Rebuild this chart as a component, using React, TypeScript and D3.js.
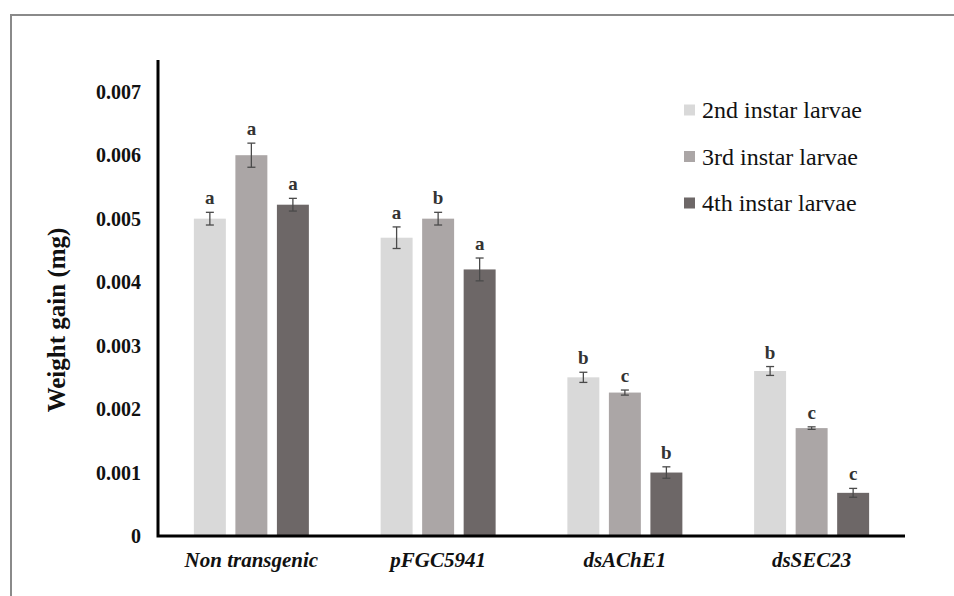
import React from 'react';
import * as d3 from 'd3';

// chart data
const groups = ['Non transgenic', 'pFGC5941', 'dsAChE1', 'dsSEC23'];
const stages = ['2nd instar larvae', '3rd instar larvae', '4th instar larvae'];
const colors = ['#d9d9d9', '#aba6a6', '#6d6767'];
const means = [
  [0.005, 0.006, 0.00522],
  [0.0047, 0.005, 0.0042],
  [0.0025, 0.00226, 0.001],
  [0.0026, 0.0017, 0.00068]
];
const errs = [
  [0.0001, 0.00019, 0.0001],
  [0.00017, 0.0001, 0.00018],
  [0.00008, 0.00004, 0.00009],
  [0.00007, 0.00002, 0.00007]
];
const letters = [
  ['a', 'a', 'a'],
  ['a', 'b', 'a'],
  ['b', 'c', 'b'],
  ['b', 'c', 'c']
];
const yTicks = [0, 0.001, 0.002, 0.003, 0.004, 0.005, 0.006, 0.007];

const W = 954,
  H = 596;
const serif = "'Times New Roman', 'Liberation Serif', Times, serif";

export default function App() {
  let margin = { top: 60, right: 49, bottom: 60, left: 158 };
  const x0 = d3
    .scaleBand()
    .domain(groups)
    .range([margin.left, W - margin.right])
    .paddingInner(0)
    .paddingOuter(0);
  const x1 = d3
    .scaleBand()
    .domain(stages)
    .range([0, 115])
    .paddingInner(0.23)
    .paddingOuter(0);
  const y = d3
    .scaleLinear()
    .domain([0, 0.0075])
    .range([H - margin.bottom, margin.top]);

  const groupOffset = (x0.bandwidth() - x1.range()[1]) / 2;
  const base = y(0);

  return (
    <svg width={W} height={H} style={{ position: 'absolute', left: 0, top: 0, background: '#fff' }}>
      {/* outer frame */}
      <path d={`M ${W} 15 L 11 15 L 11 ${H}`} fill="none" stroke="#8a8a8a" strokeWidth={2} />

      {/* bars */}
      {groups.map((g, gi) => (
        <g key={g} transform={`translate(${x0(g) + groupOffset},0)`}>
          {stages.map((s, si) => {
            const v = means[gi][si],
              e = errs[gi][si];
            const bx = x1(s),
              bw = x1.bandwidth(),
              cx = bx + bw / 2;
            return (
              <g key={s}>
                <rect x={bx} y={y(v)} width={bw} height={base - y(v)} fill={colors[si]} />
                <line x1={cx} x2={cx} y1={y(v + e)} y2={y(v - e)} stroke="#4a4a4a" strokeWidth={1.3} />
                <line x1={cx - 4} x2={cx + 4} y1={y(v + e)} y2={y(v + e)} stroke="#4a4a4a" strokeWidth={1.3} />
                <line x1={cx - 4} x2={cx + 4} y1={y(v - e)} y2={y(v - e)} stroke="#4a4a4a" strokeWidth={1.3} />
                <text
                  x={cx}
                  y={y(v + e) - 8}
                  textAnchor="middle"
                  style={{ fontFamily: serif, fontWeight: 'bold', fontSize: 19, fill: '#333' }}
                >
                  {letters[gi][si]}
                </text>
              </g>
            );
          })}
        </g>
      ))}

      {/* axes */}
      <path
        d={`M ${margin.left} ${margin.top} L ${margin.left} ${base} L ${W - margin.right} ${base}`}
        fill="none"
        stroke="#000"
        strokeWidth={3}
      />
      {yTicks.map(t => (
        <text
          key={t}
          x={141}
          y={y(t)}
          dy="0.35em"
          textAnchor="end"
          style={{ fontFamily: serif, fontWeight: 'bold', fontSize: 20, fill: '#111' }}
        >
          {t === 0 ? '0' : d3.format('.3f')(t)}
        </text>
      ))}
      <text
        transform={`translate(56, ${(margin.top + base) / 2 + 22}) rotate(-90)`}
        textAnchor="middle"
        dy="0.35em"
        style={{ fontFamily: serif, fontWeight: 'bold', fontSize: 25, fill: '#111' }}
      >
        Weight gain (mg)
      </text>

      {groups.map(g => (
        <text
          key={g}
          x={x0(g) + x0.bandwidth() / 2}
          y={560}
          dy="0.35em"
          textAnchor="middle"
          style={{ fontFamily: serif, fontWeight: 'bold', fontStyle: 'italic', fontSize: 21, fill: '#111' }}
        >
          {g}
        </text>
      ))}

      {/* legend */}
      {stages.map((s, i) => (
        <g key={s} transform={`translate(684, ${110 + i * 46.5})`}>
          <rect x={0} y={-5.5} width={11} height={11} fill={colors[i]} />
          <text x={18} y={0} dy="0.35em" style={{ fontFamily: serif, fontSize: 24, fill: '#111' }}>
            {s}
          </text>
        </g>
      ))}
    </svg>
  );
}
